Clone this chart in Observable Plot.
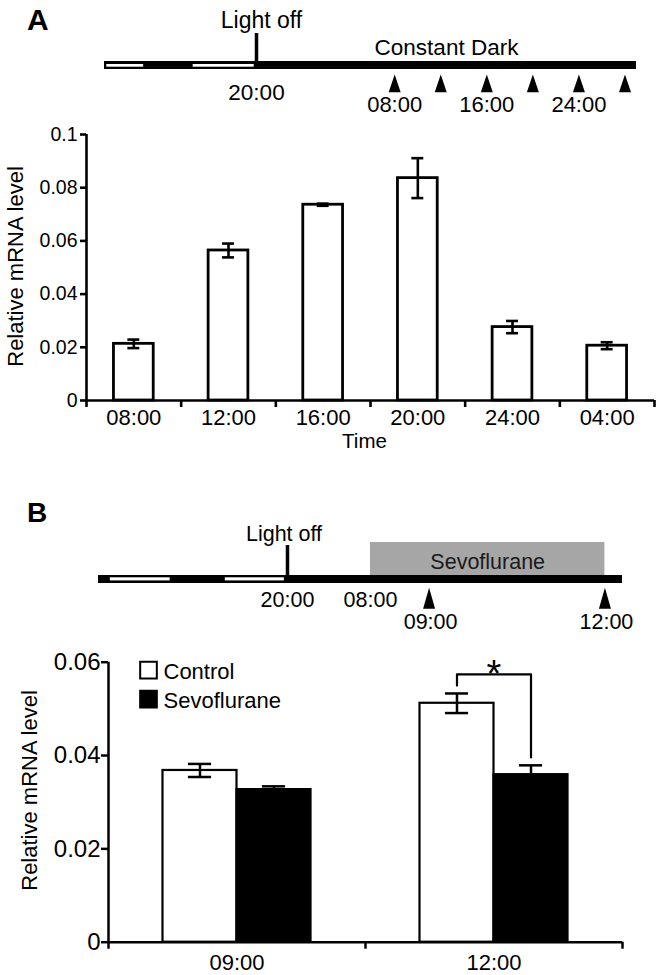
<!DOCTYPE html>
<html><head><meta charset="utf-8">
<script src="https://cdn.jsdelivr.net/npm/d3@7"></script>
<script src="https://cdn.jsdelivr.net/npm/@observablehq/plot@0.6"></script>
<style>
html,body{margin:0;padding:0;background:#fff;}
#root{position:relative;width:662px;height:975px;overflow:hidden;font-family:"Liberation Sans",Arial,sans-serif;color:#000;}
#root > .part{position:absolute;left:0;}
.letter{position:absolute;font-weight:bold;line-height:1;color:#000;}
</style></head><body><div id="root"></div>
<script>
// ---------- Panel A data ----------
const timesA = ["08:00", "12:00", "16:00", "20:00", "24:00", "04:00"];
const meansA = [0.0213, 0.0564, 0.0736, 0.0836, 0.0276, 0.0206];
const semsA  = [0.0016, 0.0026, 0.0004, 0.0075, 0.0023, 0.0013];
const yTicksA = [0, 0.02, 0.04, 0.06, 0.08, 0.1];

// Timeline A (hours after lights off at 20:00, schematic)
const spanA = [-13.2, 33.0];
const lightPhasesA = [[-13.0, -9.8], [-5.5, -0.2]];
const lightsOffA = [{hour: 0, label: "20:00"}];
const darkPhaseA = [{from: 0, to: 33.0, label: "Constant Dark"}];
const samplesA = [12, 16, 20, 24, 28, 32];
const sampleLabelsA = ["08:00", "", "16:00", "", "24:00", ""];

// ---------- Panel B data ----------
const groupsB = ["09:00", "12:00"];
const seriesB = ["Control", "Sevoflurane"];
const controlMeansB = [0.0368, 0.0512];
const controlSemsB  = [0.0014, 0.0021];
const sevoMeansB    = [0.0327, 0.0359];
const sevoSemsB     = [0.0007, 0.0020];
const yTicksB = [0, 0.02, 0.04, 0.06];
const significanceB = [{group: "12:00", top: 0.0574, label: "*"}];

// Timeline B (hours after lights off at 20:00, schematic / broken axis)
const spanB = [-24, 16.3];
const lightPhasesB = [[-22.5, -14.9], [-7.9, -0.4]];
const clockLabelsB = [{hour: 0, label: "20:00"}, {hour: 12, label: "08:00"}];
const sevoWindowB = [{from: 12, to: 16, label: "Sevoflurane"}];
const samplesB = [13, 16];
const sampleLabelsB = ["09:00", "12:00"];

// ---------- helpers ----------
const FONT = '"Liberation Sans", Arial, sans-serif';
const root = document.getElementById("root");
function place(el, top) { el.classList.add("part"); el.style.top = top + "px"; root.appendChild(el); }
function letter(txt, left, top, size) {
  const d = document.createElement("div");
  d.className = "letter"; d.textContent = txt;
  d.style.left = left + "px"; d.style.top = top + "px"; d.style.fontSize = size + "px";
  root.appendChild(d);
}
const baseStyle = {fontFamily: FONT, background: "transparent", color: "black", overflow: "visible"};

// ---------- Timeline A ----------
const tlA = Plot.plot({
  width: 662, height: 120, marginTop: 61, marginBottom: 51, marginLeft: 0, marginRight: 0,
  x: {domain: spanA, range: [104, 636], axis: null},
  style: baseStyle,
  marks: [
    Plot.rectX([spanA], {x1: d => d[0], x2: d => d[1], fill: "black"}),
    Plot.rectX(lightPhasesA, {x1: d => d[0], x2: d => d[1], fill: "white", insetTop: 3, insetBottom: 2.3}),
    Plot.ruleX(lightsOffA, {x: "hour", stroke: "black", strokeWidth: 3.5, insetTop: -28}),
    Plot.text(lightsOffA, {x: "hour", text: () => "Light off", frameAnchor: "top", lineAnchor: "bottom", dy: -34, dx: 5, fontSize: 23}),
    Plot.text(lightsOffA, {x: "hour", text: "label", frameAnchor: "bottom", lineAnchor: "bottom", dy: 30, fontSize: 22.5}),
    Plot.text(darkPhaseA, {x: d => (d.from + d.to) / 2, text: "label", frameAnchor: "top", lineAnchor: "bottom", dy: -7, fontSize: 22.5}),
    Plot.vector(samplesA, {x: d => d, frameAnchor: "bottom", dy: 22.7, shape: "spike", anchor: "start", length: 17.7, r: 6, fill: "black", stroke: "none"}),
    Plot.text(samplesA, {x: d => d, text: (d, i) => sampleLabelsA[i], frameAnchor: "bottom", lineAnchor: "bottom", dy: 42, fontSize: 22})
  ]
});
place(tlA, 0);

// ---------- Chart A ----------
const dataA = timesA.map((t, i) => ({i, t, mean: meansA[i], sem: semsA[i]}));
const padA = 0.29, capA = 0.063;
const chartA = Plot.plot({
  width: 662, height: 335, marginTop: 14, marginBottom: 55, marginLeft: 86, marginRight: 8,
  x: {domain: [0, timesA.length], axis: null},
  y: {domain: [0, 0.1], axis: null},
  style: baseStyle,
  marks: [
    Plot.rect(dataA, {x1: d => d.i + padA, x2: d => d.i + 1 - padA, y1: 0, y2: "mean", fill: "white", stroke: "black", strokeWidth: 2.8}),
    Plot.ruleX(dataA, {x: d => d.i + 0.5, y1: d => d.mean - d.sem, y2: d => d.mean + d.sem, stroke: "black", strokeWidth: 2.6}),
    Plot.ruleY(dataA, {y: d => d.mean + d.sem, x1: d => d.i + 0.5 - capA, x2: d => d.i + 0.5 + capA, stroke: "black", strokeWidth: 2.6}),
    Plot.ruleY(dataA, {y: d => d.mean - d.sem, x1: d => d.i + 0.5 - capA, x2: d => d.i + 0.5 + capA, stroke: "black", strokeWidth: 2.6}),
    Plot.ruleX([0], {stroke: "black", strokeWidth: 2.6}),
    Plot.ruleY([0], {stroke: "black", strokeWidth: 2.6}),
    Plot.axisY(yTicksA, {tickSize: 6, tickPadding: 3, tickFormat: d => String(d), fontSize: 19.5, stroke: "black", strokeWidth: 2.6, label: null}),
    Plot.axisX(d3.range(0, timesA.length + 1), {tickSize: 7, tickFormat: () => "", stroke: "black", strokeWidth: 2.6, label: null}),
    Plot.axisX(dataA.map(d => d.i + 0.5), {tickSize: 0, tickPadding: 9, tickFormat: (d) => timesA[Math.floor(d)], fontSize: 22, label: null}),
    Plot.text(["Time"], {text: d => d, frameAnchor: "bottom", lineAnchor: "bottom", dy: 47, dx: -6, fontSize: 20.5}),
    Plot.text(["Relative mRNA level"], {text: d => d, frameAnchor: "left", textAnchor: "middle", rotate: -90, dx: -70.5, dy: -1, fontSize: 22})
  ]
});
place(chartA, 120);

// ---------- Timeline B ----------
const tlB = Plot.plot({
  width: 662, height: 150, marginTop: 95, marginBottom: 47, marginLeft: 0, marginRight: 0,
  x: {type: "linear", domain: [spanB[0], 0, 12, spanB[1]], range: [98, 287, 370, 622], axis: null},
  style: baseStyle,
  marks: [
    Plot.rectX(sevoWindowB, {x1: "from", x2: "to", fill: "#a6a6a6", insetTop: -33, insetBottom: 8}),
    Plot.text(sevoWindowB, {x: d => (d.from + d.to) / 2, text: "label", frameAnchor: "top", lineAnchor: "bottom", dy: -7, fontSize: 21.5, fill: "#1a1a1a"}),
    Plot.rectX([spanB], {x1: d => d[0], x2: d => d[1], fill: "black"}),
    Plot.rectX(lightPhasesB, {x1: d => d[0], x2: d => d[1], fill: "white", insetTop: 2.3, insetBottom: 2.6}),
    Plot.ruleX([clockLabelsB[0]], {x: "hour", stroke: "black", strokeWidth: 3.5, insetTop: -30}),
    Plot.text([clockLabelsB[0]], {x: "hour", text: () => "Light off", frameAnchor: "top", lineAnchor: "bottom", dy: -34.3, dx: -3.5, fontSize: 21.5}),
    Plot.text(clockLabelsB, {x: "hour", text: "label", frameAnchor: "bottom", lineAnchor: "bottom", dy: 23, fontSize: 21.5}),
    Plot.vector(samplesB, {x: d => d, frameAnchor: "bottom", dy: 25.3, shape: "spike", anchor: "start", length: 21, r: 6, fill: "black", stroke: "none"}),
    Plot.text(samplesB, {x: d => d, text: (d, i) => sampleLabelsB[i], frameAnchor: "bottom", lineAnchor: "bottom", dy: 45.3, dx: 1.5, fontSize: 21.5})
  ]
});
place(tlB, 480);

// ---------- Chart B ----------
const wB = 0.288, capB = 0.045, gapB = 0.0017;
const dataB = groupsB.flatMap((g, i) => [
  {g, i, k: 0, series: seriesB[0], mean: controlMeansB[i], sem: controlSemsB[i]},
  {g, i, k: 1, series: seriesB[1], mean: sevoMeansB[i], sem: sevoSemsB[i]}
]).map(d => ({...d, x1: d.i + 0.5 + (d.k - 1) * wB, x2: d.i + 0.5 + d.k * wB, cx: d.i + 0.5 + (d.k - 0.5) * wB}));
const bracketB = significanceB.flatMap(s => {
  const i = groupsB.indexOf(s.group);
  const c = dataB.find(d => d.i === i && d.k === 0), v = dataB.find(d => d.i === i && d.k === 1);
  return [
    {x: c.cx, y: c.mean + c.sem + gapB}, {x: c.cx, y: s.top},
    {x: v.cx, y: s.top}, {x: v.cx, y: v.mean + v.sem + gapB}
  ];
});
const fillsB = ["white", "black"];
const chartB = Plot.plot({
  width: 662, height: 345, marginTop: 31.7, marginBottom: 33.3, marginLeft: 108, marginRight: 40,
  x: {domain: [0, groupsB.length], axis: null},
  y: {domain: [0, 0.06], axis: null},
  color: {domain: seriesB, range: fillsB},
  style: baseStyle,
  marks: [
    Plot.rect(dataB, {x1: "x1", x2: "x2", y1: 0, y2: "mean", fill: "series", stroke: "black", strokeWidth: 2.2}),
    Plot.ruleX(dataB, {x: "cx", y1: d => d.mean - d.sem, y2: d => d.mean + d.sem, stroke: "black", strokeWidth: 2.5}),
    Plot.ruleY(dataB, {y: d => d.mean + d.sem, x1: d => d.cx - capB, x2: d => d.cx + capB, stroke: "black", strokeWidth: 2.5}),
    Plot.ruleY(dataB, {y: d => d.mean - d.sem, x1: d => d.cx - capB, x2: d => d.cx + capB, stroke: "black", strokeWidth: 2.5}),
    Plot.line(bracketB, {x: "x", y: "y", stroke: "black", strokeWidth: 2.2}),
    Plot.text(significanceB, {x: d => groupsB.indexOf(d.group) + 0.5, y: "top", text: "label", lineAnchor: "bottom", dy: 13, fontSize: 38}),
    Plot.ruleX([0], {stroke: "black", strokeWidth: 2.5}),
    Plot.ruleY([0], {stroke: "black", strokeWidth: 2.5}),
    Plot.axisY(yTicksB, {tickSize: 7, tickPadding: 1, tickFormat: d => String(d), fontSize: 24, stroke: "black", strokeWidth: 2.5, label: null}),
    Plot.axisX(d3.range(0, groupsB.length + 1), {tickSize: 7, tickFormat: () => "", stroke: "black", strokeWidth: 2.5, label: null}),
    Plot.axisX(groupsB.map((g, i) => i + 0.5), {tickSize: 0, tickPadding: 12, tickFormat: d => groupsB[Math.floor(d)], fontSize: 22, label: null}),
    Plot.text(["Relative mRNA level"], {text: d => d, frameAnchor: "left", textAnchor: "middle", rotate: -90, dx: -78.5, dy: -11.7, fontSize: 22}),
    ...seriesB.flatMap((name, k) => [
      Plot.dot([name], {frameAnchor: "top-left", dx: 40, dy: 8 + 29 * k, symbol: "square", r: 9.4, fill: fillsB[k], stroke: "black", strokeWidth: 2}),
      Plot.text([name], {text: d => d, frameAnchor: "top-left", textAnchor: "start", lineAnchor: "bottom", dx: 55, dy: 16.6 + 29 * k, fontSize: 22})
    ])
  ]
});
place(chartB, 630);

letter("A", 27, 4.6, 30);
letter("B", 27, 499.3, 28);
</script>
</body></html>
